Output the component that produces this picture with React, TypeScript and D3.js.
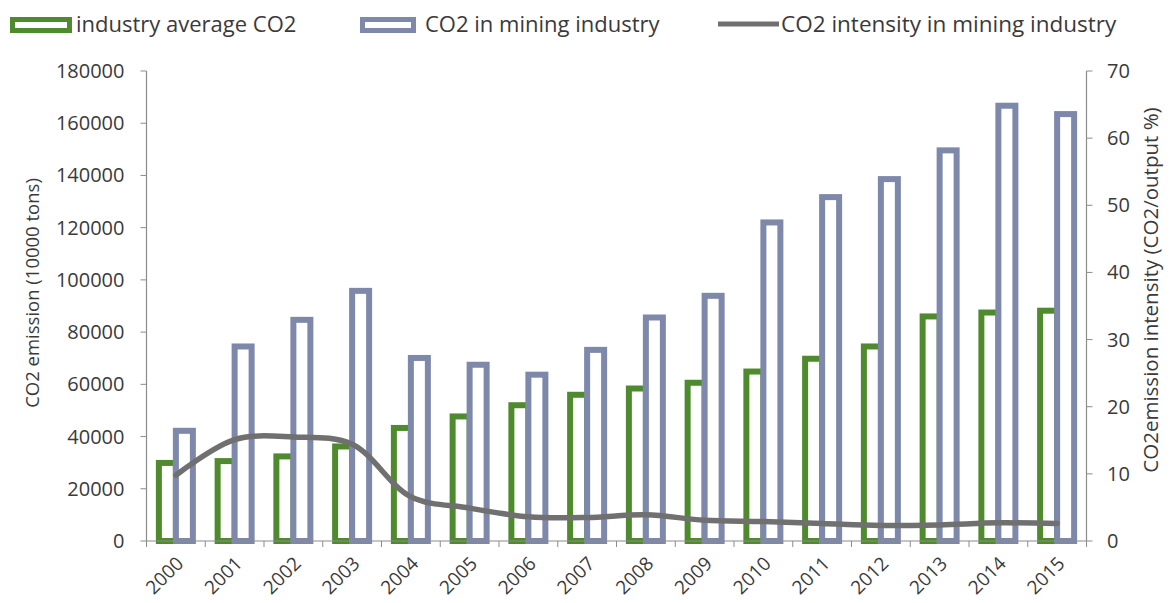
import React from "react";
import * as d3 from "d3";

const years = ["2000","2001","2002","2003","2004","2005","2006","2007","2008","2009","2010","2011","2012","2013","2014","2015"];
const industryAvgCO2 = [29900, 30600, 32400, 36200, 43300, 47700, 52000, 56000, 58400, 60600, 64900, 69800, 74500, 86000, 87500, 88200];
const miningCO2 = [42200, 74500, 84700, 95800, 70100, 67500, 63700, 73200, 85600, 93900, 122000, 131700, 138600, 149600, 166700, 163500];
const miningIntensity = [9.8, 15.1, 15.5, 14.4, 6.6, 4.9, 3.6, 3.5, 3.9, 3.1, 2.9, 2.6, 2.3, 2.4, 2.7, 2.6];
const leftTicks = [0, 20000, 40000, 60000, 80000, 100000, 120000, 140000, 160000, 180000];
const rightTicks = [0, 10, 20, 30, 40, 50, 60, 70];
const seriesNames = ["industry average CO2", "CO2 in mining industry", "CO2 intensity in mining industry"];

const W = 1171, H = 603;
const L = 146.5, R = 1086.5, T = 71, B = 541;
const GREEN = "#4f8a2f";
const BLUE = "#7e88ab";
const LINE = "#707070";
const AXIS = "#8c8c8c";
const TEXT = "#3a3a3a";
const FONT = "'Open Sans', sans-serif";

export default function App() {
  const x = d3.scaleBand<string>().domain(years).range([L, R]).paddingInner(0).paddingOuter(0);
  const x1 = d3.scaleBand<string>().domain(["avg", "mining"]).range([0, x.bandwidth()]).paddingInner(0).paddingOuter(0.728);
  const y = d3.scaleLinear().domain([0, 180000]).range([B, T]);
  const y2 = d3.scaleLinear().domain([0, 70]).range([B, T]);
  const bw = x1.bandwidth();
  const line = d3.line<number>()
    .x((_, i) => (x(years[i]) as number) + x.bandwidth() / 2)
    .y((d) => y2(d))
    .curve(d3.curveCatmullRom.alpha(0.5));

  return (
    <svg width={W} height={H} style={{ position: "absolute", left: 0, top: 0, background: "#fff" }} fontFamily={FONT}>
      {/* legend */}
      <rect x={12.5} y={19.5} width={57} height={11} fill="#fff" stroke={GREEN} strokeWidth={5} />
      <text x={76} y={32} fontSize={22} fill={TEXT}>{seriesNames[0]}</text>
      <rect x={362.5} y={19.5} width={51} height={11} fill="#fff" stroke={BLUE} strokeWidth={5} />
      <text x={425} y={32} fontSize={22} fill={TEXT}>{seriesNames[1]}</text>
      <line x1={718} x2={779} y1={24} y2={24} stroke={LINE} strokeWidth={5} />
      <text x={781} y={32} fontSize={22.5} fill={TEXT}>{seriesNames[2]}</text>

      {/* axes */}
      <line x1={L} x2={L} y1={T} y2={B} stroke={AXIS} strokeWidth={1.2} />
      <line x1={R} x2={R} y1={T} y2={B} stroke={AXIS} strokeWidth={1.2} />
      {leftTicks.map((t) => (
        <g key={"l" + t}>
          <line x1={L - 6} x2={L} y1={y(t)} y2={y(t)} stroke={AXIS} />
          <text x={124.5} y={y(t)} dy="0.35em" textAnchor="end" fontSize={20} fill={TEXT}>{t}</text>
        </g>
      ))}
      {rightTicks.map((t) => (
        <g key={"r" + t}>
          <line x1={R} x2={R + 6} y1={y2(t)} y2={y2(t)} stroke={AXIS} />
          <text x={1107} y={y2(t)} dy="0.35em" textAnchor="start" fontSize={20} fill={TEXT}>{t}</text>
        </g>
      ))}
      {years.map((yr) => (
        <line key={"xt" + yr} x1={(x(yr) as number)} x2={(x(yr) as number)} y1={B} y2={B + 6} stroke={AXIS} />
      ))}
      <line x1={R} x2={R} y1={B} y2={B + 6} stroke={AXIS} />
      <text transform={`translate(33,293) rotate(-90)`} textAnchor="middle" dy="0.35em" fontSize={18.5} fill={TEXT}>CO2 emission (10000 tons)</text>
      <text transform={`translate(1151,290) rotate(-90)`} textAnchor="middle" dy="0.35em" fontSize={20.5} fill={TEXT}>CO2emission intensity (CO2/output %)</text>

      {/* bars */}
      {years.map((yr, i) => {
        const x0 = x(yr) as number;
        return (
          <g key={"b" + yr}>
            <rect x={x0 + (x1("avg") as number)} y={y(industryAvgCO2[i])} width={bw} height={B - y(industryAvgCO2[i])} fill="#fff" stroke={GREEN} strokeWidth={6} />
            <rect x={x0 + (x1("mining") as number)} y={y(miningCO2[i])} width={bw} height={B - y(miningCO2[i])} fill="#fff" stroke={BLUE} strokeWidth={6} />
          </g>
        );
      })}
      <line x1={L} x2={R} y1={B} y2={B} stroke={AXIS} strokeWidth={1.2} />

      {/* line */}
      <path d={line(miningIntensity) || ""} fill="none" stroke={LINE} strokeWidth={5.5} strokeLinejoin="round" strokeLinecap="round" />

      {/* x labels */}
      {years.map((yr) => {
        const cx = (x(yr) as number) + x.bandwidth() / 2 + 4;
        return (
          <text key={"xl" + yr} transform={`translate(${cx},${560}) rotate(-45)`} textAnchor="end" dy="0.35em" fontSize={19} fill={TEXT}>{yr}</text>
        );
      })}
    </svg>
  );
}
